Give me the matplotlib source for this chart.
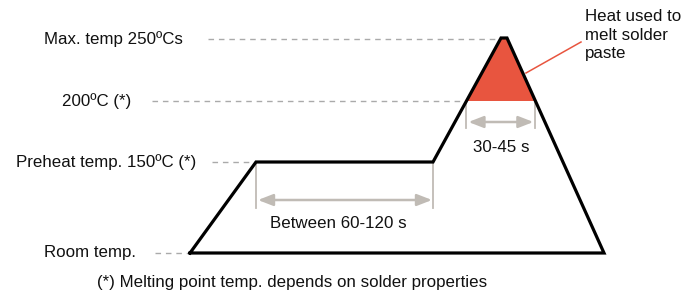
import numpy as np
import matplotlib
matplotlib.use("Agg")
import matplotlib.pyplot as plt

plt.rcParams['font.family'] = ['Liberation Sans', 'DejaVu Sans']

# reflow profile outline (schematic, picture units)
profile_x = [190, 256, 433, 501, 507, 604, 190]
profile_y = [253, 162, 162, 38, 38, 253, 253]

# temperature levels with labels on the left
level_labels = ['Max. temp 250ºCs', '200ºC (*)', 'Preheat temp. 150ºC (*)', 'Room temp.']
level_y = [39, 101, 162, 253]
label_right = [183, 131, 196, 136]
dash_start = [208, 152, 212, 155]
dash_end = [501, 467, 256, 190]

melt_y = 101  # 200ºC level

heat_text = 'Heat used to\nmelt solder\npaste'
footnote = '(*) Melting point temp. depends on solder properties'
soak_text = 'Between 60-120 s'
reflow_text = '30-45 s'

RED = '#e8553f'
DIM = '#c0bbb5'
DASH = '#aaaaaa'
FS = 12.2

fig = plt.figure(figsize=(6.98, 2.98), dpi=100)
ax = fig.add_axes([0, 0, 1, 1])
ax.set_xlim(0, 698)
ax.set_ylim(298, 0)
ax.axis('off')

# crossings of the peak slopes with the 200ºC level
left_x = np.interp(melt_y, [profile_y[3], profile_y[2]], [profile_x[3], profile_x[2]])
right_x = np.interp(melt_y, [profile_y[4], profile_y[5]], [profile_x[4], profile_x[5]])

# red heat area above 200ºC
ax.fill([left_x, profile_x[3], profile_x[4], right_x],
        [melt_y, profile_y[3], profile_y[4], melt_y], color=RED, lw=0, zorder=2)

# dashed level guides + labels
for lab, y, xr, x0, x1 in zip(level_labels, level_y, label_right, dash_start, dash_end):
    ax.plot([x0, x1], [y, y], color=DASH, lw=1, dashes=(4, 3.5), zorder=1)
    ax.text(xr, y, lab, ha='right', va='center', fontsize=FS, color='#111111')

# profile outline
ax.plot(profile_x, profile_y, color='black', lw=2.3, solid_joinstyle='miter', zorder=3)

# soak time dimension
sx0, sx1 = profile_x[1], profile_x[2]
for x in (sx0, sx1):
    ax.plot([x, x], [profile_y[1], 208], color=DIM, lw=1.3, zorder=1)
ax.annotate('', xy=(sx1 - 1, 200), xytext=(sx0 + 2, 200),
            arrowprops=dict(arrowstyle='<|-|>,head_length=0.9,head_width=0.35',
                            color=DIM, lw=1.8, shrinkA=0, shrinkB=0))
ax.text((sx0 + sx1) / 2 - 6, 223, soak_text, ha='center', va='center', fontsize=FS,
        color='#111111')

# reflow time dimension
for x in (left_x, right_x):
    ax.plot([x, x], [melt_y, 128], color=DIM, lw=1.3, zorder=1)
ax.annotate('', xy=(right_x - 2, 122), xytext=(left_x + 2, 122),
            arrowprops=dict(arrowstyle='<|-|>,head_length=0.9,head_width=0.35',
                            color=DIM, lw=1.8, shrinkA=0, shrinkB=0))
ax.text((left_x + right_x) / 2, 147, reflow_text, ha='center', va='center', fontsize=FS,
        color='#111111')

# callout for the heat area
ax.plot([526, 581], [73, 42], color=RED, lw=1.1, zorder=2)
ax.text(585, 35, heat_text, ha='left', va='center', fontsize=FS, color='#111111',
        linespacing=1.3)

ax.text(97, 283, footnote, ha='left', va='center', fontsize=FS, color='#111111')

fig.savefig('out.png', dpi=100)
